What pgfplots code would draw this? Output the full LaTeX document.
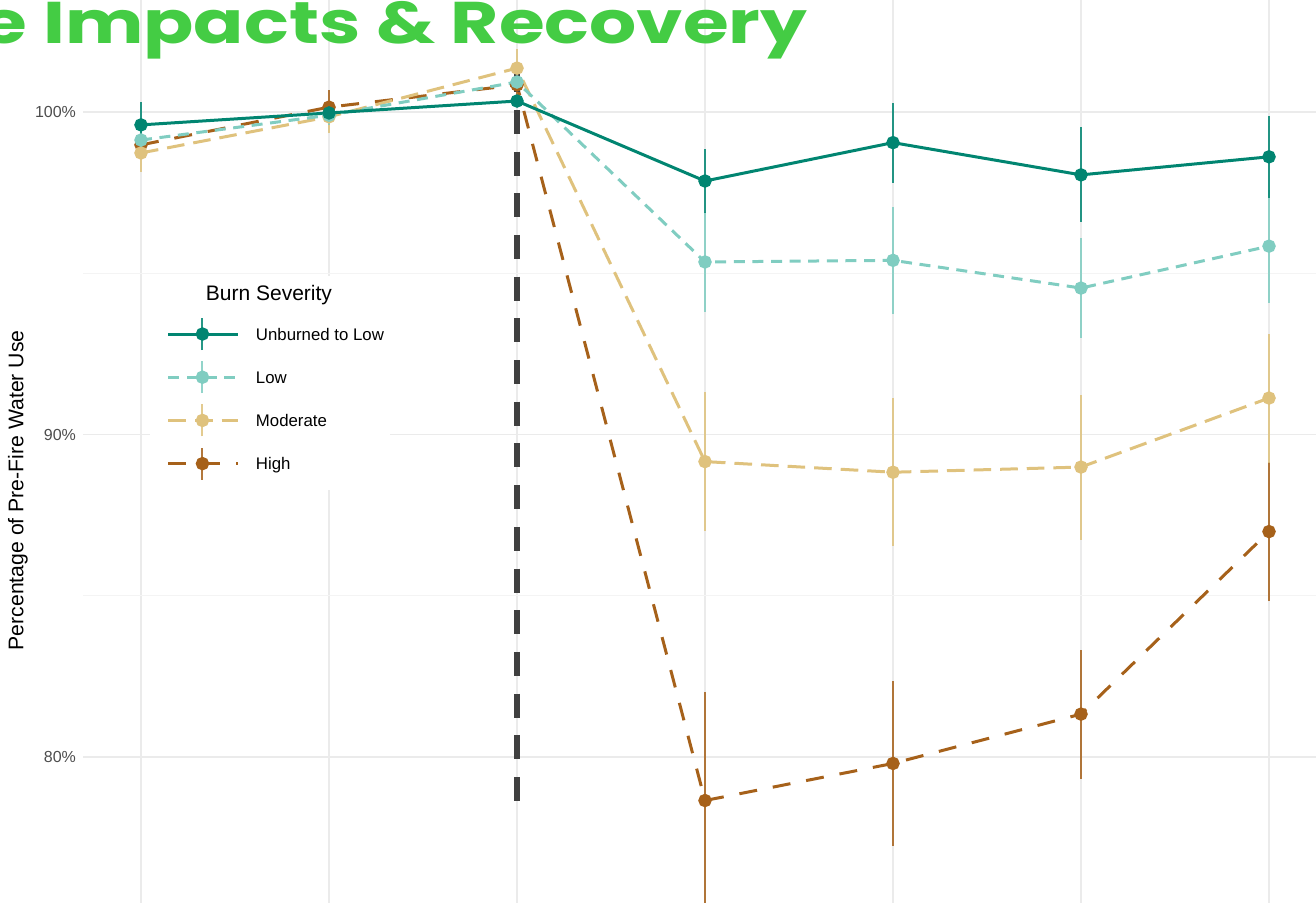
\documentclass[border=0pt]{standalone}
\usepackage{fontspec}
\setmainfont{Liberation Sans}
\newfontfamily\poppins{Poppins}
\usepackage{pgfplots}
\pgfplotsset{compat=1.18}
\definecolor{cUL}{HTML}{018571}
\definecolor{cLow}{HTML}{80CDC1}
\definecolor{cMod}{HTML}{DFC27D}
\definecolor{cHigh}{HTML}{A6611A}
\definecolor{vline}{HTML}{404040}
\definecolor{titlegreen}{HTML}{44CC44}
\definecolor{gridmaj}{HTML}{EBEBEB}
\definecolor{gridmin}{HTML}{F4F4F4}
\definecolor{ticktext}{HTML}{4D4D4D}

\pgfplotsset{
  sev/.style={line width=1.5pt, mark=*, mark size=2.6pt, mark options={solid},
    error bars/y dir=both, error bars/y explicit, error bars/error mark=none,
    error bars/error bar style={line width=1pt, solid, opacity=0.85},
    legend image code/.code={
      \path[draw=none, fill=none] (0pt,-10.8pt) rectangle (35pt,10.8pt);
      \draw[##1, mark=none] (0pt,0pt) -- (35pt,0pt);
      \draw[##1, mark=none, solid, line width=1pt, opacity=0.85] (17pt,-8pt) -- (17pt,8pt);
      \draw[##1, only marks] plot coordinates {(17pt,0pt)};
    }},
}

\begin{document}
\begin{tikzpicture}
\path[use as bounding box, clip] (-41.5pt,0pt) rectangle (616.5pt,451.5pt);
\begin{axis}[
  at={(0pt,0pt)}, anchor=south west,
  width=616.5pt, height=451.5pt, scale only axis,
  xmin=-0.3085, xmax=6.25, ymin=75.473, ymax=103.473,
  axis line style={draw=none},
  major tick length=0pt, minor tick length=0pt,
  xtick={0,1,2,3,4,5,6}, xticklabels={}, xmajorgrids,
  ytick={80,90,100}, yticklabels={80\%,90\%,100\%},
  minor ytick={85,95}, ymajorgrids, yminorgrids,
  major grid style={gridmaj, line width=0.6pt},
  minor grid style={gridmin, line width=0.5pt},
  /pgf/number format/assume math mode=true,
  y tick label style={font=\fontsize{8}{9}\selectfont, text=ticktext},
  ylabel={Percentage of Pre-Fire Water Use},
  ylabel style={font=\fontsize{10.6}{12}\selectfont, at={(axis description cs:-0.0527,0.457)}, anchor=center},
  reverse legend,
  legend style={at={(axis description cs:0.0681,0.6540)}, anchor=north west,
    draw=none, fill=none, inner sep=0pt, outer sep=0pt,
    font=\fontsize{8.4}{10}\selectfont,
    nodes={inner sep=0pt, text height=6pt, text depth=0pt},
    column sep=8pt, row sep=0pt},
  legend cell align=left,
]
\fill[white] (axis description cs:0.0543,0.4574) rectangle (axis description cs:0.249,0.6944);

\addplot[sev, color=cHigh, dash pattern=on 9pt off 8pt] coordinates {
 (0,98.98) +- (0,0.40)
 (1,100.15) +- (0,0.52)
 (2,100.84) +- (0,0.40)
 (3,78.65) +- (0,3.38)
 (4,79.80) +- (0,2.57)
 (5,81.33) +- (0,2.00)
 (6,86.99) +- (0,2.15)
};
\addlegendentry{High}

\addplot[sev, color=cMod, dash pattern=on 8.8pt off 4.5pt] coordinates {
 (0,98.73) +- (0,0.60)
 (1,99.85) +- (0,0.50)
 (2,101.36) +- (0,0.60)
 (3,89.16) +- (0,2.15)
 (4,88.83) +- (0,2.30)
 (5,88.99) +- (0,2.25)
 (6,91.13) +- (0,2.00)
};
\addlegendentry{Moderate}

\addplot[sev, color=cLow, dash pattern=on 5.5pt off 3.8pt] coordinates {
 (0,99.13) +- (0,0.30)
 (1,99.90) +- (0,0.30)
 (2,100.93) +- (0,0.30)
 (3,95.35) +- (0,1.55)
 (4,95.40) +- (0,1.65)
 (5,94.54) +- (0,1.55)
 (6,95.84) +- (0,1.75)
};
\addlegendentry{Low}

\addplot[sev, color=cUL, solid] coordinates {
 (0,99.60) +- (0,0.70)
 (1,99.97) +- (0,0.15)
 (2,100.34) +- (0,0.15)
 (3,97.86) +- (0,1.00)
 (4,99.05) +- (0,1.24)
 (5,98.05) +- (0,1.47)
 (6,98.61) +- (0,1.27)
};
\addlegendentry{Unburned to Low}

\addplot[forget plot, color=vline, line width=3.3pt, dash pattern=on 12pt off 8.85pt] coordinates {(2,101.36) (2,78.48)};

\node[anchor=base west, inner sep=0pt, font=\fontsize{10.5}{12}\selectfont] at (axis description cs:0.0994,0.6672) {Burn Severity};
\end{axis}
\node[anchor=base east, inner sep=0pt, text=titlegreen, xscale=1.26, transform shape, font=\poppins\bfseries\fontsize{29.4}{30}\selectfont] at (362.5pt,429.5pt) {e Impacts \& Recovery};
\end{tikzpicture}
\end{document}
